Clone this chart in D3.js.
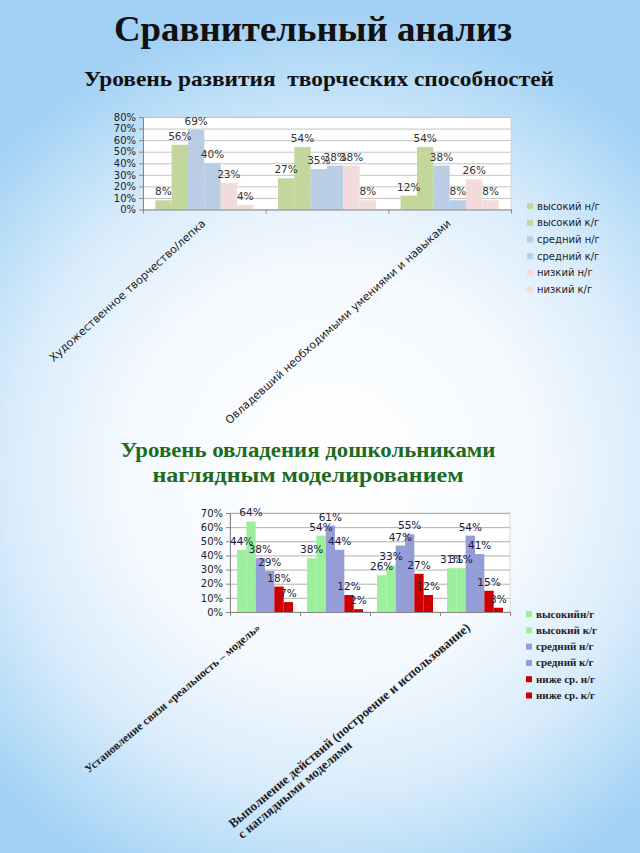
<!DOCTYPE html>
<html>
<head>
<meta charset="utf-8">
<script src="https://cdn.jsdelivr.net/npm/d3@7/dist/d3.min.js"></script>
<style>
  html, body { margin: 0; padding: 0; }
  body { width: 640px; height: 853px; overflow: hidden; }
</style>
</head>
<body>
<svg id="slide" width="640" height="853"></svg>
<script>
// ---------- Data: chart 1 ----------
const topTitle = "Сравнительный анализ";
const topSubtitle = "Уровень развития  творческих способностей";
const topCategories = ["Художественное творчество/лепка", "", "Овладевший необходимыми умениями и навыками"];
const topSeriesNames = ["высокий н/г", "высокий к/г", "средний н/г", "средний к/г", "низкий н/г", "низкий к/г"];
const topHighStart = [8, 27, 12];
const topHighEnd = [56, 54, 54];
const topMidStart = [69, 35, 38];
const topMidEnd = [40, 38, 8];
const topLowStart = [23, 38, 26];
const topLowEnd = [4, 8, 8];
const topTicks = [0, 10, 20, 30, 40, 50, 60, 70, 80];
const topColors = ["#c3d69b", "#c3d69b", "#b9cde5", "#b9cde5", "#f2dcdb", "#f2dcdb"];

// ---------- Data: chart 2 ----------
const bottomTitleLines = ["Уровень овладения дошкольниками", "наглядным моделированием"];
const bottomCategories = [["Установление связи «реальность – модель»"], [""], [""], ["Выполнение действий (построение и использование)", "с наглядными моделями"]];
const bottomSeriesNames = ["высокийн/г", "высокий к/г", "средний н/г", "средний к/г", "ниже ср. н/г", "ниже ср. к/г"];
const botHighStart = [44, 38, 26, 31];
const botHighEnd = [64, 54, 33, 31];
const botMidStart = [38, 61, 47, 54];
const botMidEnd = [29, 44, 55, 41];
const botLowStart = [18, 12, 27, 15];
const botLowEnd = [7, 2, 12, 3];
const bottomTicks = [0, 10, 20, 30, 40, 50, 60, 70];
const bottomColors = ["#9cf09c", "#9cf09c", "#959dd8", "#959dd8", "#cc0000", "#cc0000"];

const svg = d3.select("#slide");

// ---------- Background ----------
const defs = svg.append("defs");
const rg = defs.append("radialGradient").attr("id", "bg")
  .attr("gradientUnits", "userSpaceOnUse")
  .attr("cx", 330).attr("cy", 470).attr("r", 460);
[[0, "#ffffff"], [0.45, "#f4f9fe"], [0.7, "#d9ecfb"], [0.85, "#bcdff8"], [1, "#a2d0f5"]]
  .forEach(([o, c]) => rg.append("stop").attr("offset", o).attr("stop-color", c));
svg.append("rect").attr("width", 640).attr("height", 853).attr("fill", "#a6d3f6");
svg.append("rect").attr("width", 640).attr("height", 853).attr("fill", "url(#bg)");

// ---------- Titles ----------
svg.append("text").attr("x", 313).attr("y", 41).attr("text-anchor", "middle")
  .attr("font-family", "Liberation Serif").attr("font-weight", "bold").attr("font-size", 36)
  .attr("textLength", 398).attr("lengthAdjust", "spacingAndGlyphs")
  .attr("fill", "#111").text(topTitle);
svg.append("text").attr("x", 319).attr("y", 86).attr("text-anchor", "middle")
  .attr("font-family", "Liberation Serif").attr("font-weight", "bold").attr("font-size", 21)
  .attr("textLength", 470).attr("lengthAdjust", "spacingAndGlyphs")
  .attr("fill", "#111").style("white-space", "pre").text(topSubtitle);

const gTitle2 = svg.append("g");
[[bottomTitleLines[0], 308, 457, 375], [bottomTitleLines[1], 308, 482, 311]].forEach(([t, x, y, w]) => {
  gTitle2.append("text").attr("x", x).attr("y", y).attr("text-anchor", "middle")
    .attr("font-family", "Liberation Serif").attr("font-weight", "bold").attr("font-size", 20)
    .attr("textLength", w).attr("lengthAdjust", "spacingAndGlyphs")
    .attr("fill", "#1d6b1d").text(t);
});

// ---------- Generic chart ----------
function drawChart(o) {
  const g = svg.append("g");
  const n = o.categories.length;
  const x = d3.scaleBand().domain(d3.range(n)).range([o.left, o.right]).paddingInner(0).paddingOuter(0);
  const bw = x.bandwidth();
  const gap = bw * 1.5 / 7.5;
  const xs = d3.scaleBand().domain(d3.range(o.series.length)).range([gap / 2, bw - gap / 2]).padding(0);
  const y = d3.scaleLinear().domain([0, o.max]).range([o.bottom, o.top]);
  const xb = d3.scaleLinear().domain([0, n]).range([o.left, o.right]);

  // plot area
  g.append("rect").attr("x", o.left).attr("y", o.top).attr("width", o.right - o.left)
    .attr("height", o.bottom - o.top).attr("fill", "#ffffff").attr("stroke", "#d0d0d0").attr("stroke-width", 0.8);

  // gridlines
  g.append("g").selectAll("line").data(o.ticks.filter(t => t > 0)).join("line")
    .attr("x1", o.left).attr("x2", o.right)
    .attr("y1", d => y(d / 100) + 0.5).attr("y2", d => y(d / 100) + 0.5)
    .attr("stroke", o.gridColor).attr("stroke-width", 1);

  // bars
  o.series.forEach((s, i) => {
    g.append("g").selectAll("rect").data(s.values).join("rect")
      .attr("x", (d, j) => x(j) + xs(i))
      .attr("width", xs.bandwidth())
      .attr("y", d => y(d / 100))
      .attr("height", d => y(0) - y(d / 100))
      .attr("fill", o.colors[i]);
  });

  // y axis
  const ya = g.append("g").attr("transform", `translate(${o.left},0)`)
    .call(d3.axisLeft(y).tickValues(o.ticks.map(t => t / 100)).tickFormat(d3.format(".0%")).tickSize(4).tickPadding(3).tickSizeOuter(0));
  ya.select(".domain").attr("stroke", "#868686");
  ya.selectAll(".tick line").attr("stroke", "#868686");
  ya.selectAll("text").attr("font-family", "DejaVu Sans").attr("font-size", o.tickFont).attr("fill", "#222");

  // x axis
  const xa = g.append("g").attr("transform", `translate(0,${o.bottom})`)
    .call(d3.axisBottom(xb).tickValues(d3.range(n + 1)).tickFormat("").tickSize(4).tickSizeOuter(0));
  xa.select(".domain").attr("stroke", "#868686");
  xa.selectAll(".tick line").attr("stroke", "#868686");

  // value labels
  o.series.forEach((s, i) => {
    g.append("g").selectAll("text").data(s.values).join("text")
      .attr("x", (d, j) => x(j) + xs(i) + xs.bandwidth() / 2)
      .attr("y", d => y(d / 100) - 5)
      .attr("text-anchor", "middle")
      .attr("font-family", "DejaVu Sans").attr("font-size", o.valueFont)
      .attr("fill", o.valueColor)
      .text(d => d + "%");
  });

  // legend
  const lg = g.append("g");
  o.series.forEach((s, i) => {
    const ly = o.legendY + i * o.legendStep;
    lg.append("rect").attr("x", o.legendX).attr("y", ly - 3).attr("width", 6).attr("height", 6).attr("fill", o.colors[i]);
    lg.append("text").attr("x", o.legendX + 10).attr("y", ly + 3.5)
      .attr("font-family", o.legendFamily).attr("font-weight", o.legendWeight)
      .attr("font-size", o.legendFont).attr("fill", "#222").text(s.name);
  });

  // category labels
  o.categories.forEach((c, j) => {
    const lines = Array.isArray(c) ? c : [c];
    if (!lines[0]) return;
    const fs = o.catFonts[j];
    const cx = x(j) + bw / 2 + o.catDx;
    const cg = g.append("g").attr("transform", `translate(${cx},${o.bottom + o.catDy}) rotate(${o.catAngle})`);
    const t1 = cg.append("text").attr("x", 0).attr("y", 0).attr("text-anchor", "end")
      .attr("font-family", o.catFamily).attr("font-weight", o.catWeight).attr("font-size", fs)
      .attr("fill", "#222").text(lines[0]);
    if (lines.length > 1) {
      const w = t1.node().getComputedTextLength();
      cg.append("text").attr("x", -w).attr("y", fs + 1).attr("text-anchor", "start")
        .attr("font-family", o.catFamily).attr("font-weight", o.catWeight).attr("font-size", fs)
        .attr("fill", "#222").text(lines[1]);
    }
  });
}

drawChart({
  categories: topCategories,
  series: [topHighStart, topHighEnd, topMidStart, topMidEnd, topLowStart, topLowEnd]
    .map((v, i) => ({ name: topSeriesNames[i], values: v })),
  colors: topColors,
  ticks: topTicks, max: 0.8,
  left: 143, right: 511, top: 117, bottom: 209.5,
  gridColor: "#c4c4c4",
  tickFont: 10, valueFont: 10.5, valueColor: "#333",
  legendX: 527, legendY: 206, legendStep: 16.7, legendFont: 10, legendFamily: "DejaVu Sans", legendWeight: "normal",
  catDx: 2, catDy: 15, catAngle: -42, catFonts: [11, 11, 11], catFamily: "DejaVu Sans", catWeight: "normal"
});

drawChart({
  categories: bottomCategories,
  series: [botHighStart, botHighEnd, botMidStart, botMidEnd, botLowStart, botLowEnd]
    .map((v, i) => ({ name: bottomSeriesNames[i], values: v })),
  colors: bottomColors,
  ticks: bottomTicks, max: 0.7,
  left: 230, right: 510, top: 513, bottom: 612,
  gridColor: "#b0b0b0",
  tickFont: 10, valueFont: 10.5, valueColor: "#1c1c3a",
  legendX: 526, legendY: 614, legendStep: 16.3, legendFont: 11, legendFamily: "Liberation Serif", legendWeight: "bold",
  catDx: -4, catDy: 17, catAngle: -40, catFonts: [11.5, 11.5, 11.5, 13], catFamily: "Liberation Serif", catWeight: "bold"
});
</script>
</body>
</html>
